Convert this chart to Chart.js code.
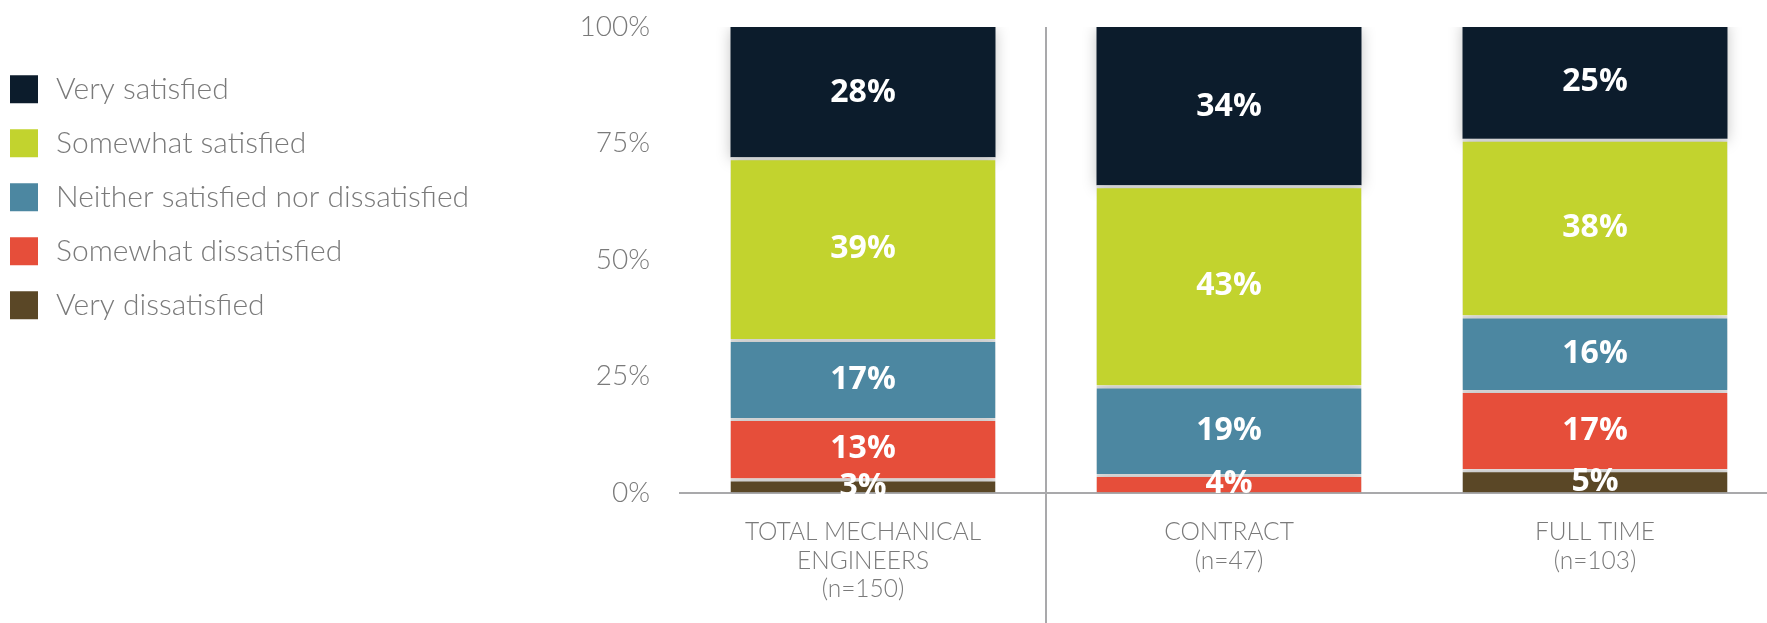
<!DOCTYPE html>
<html><head><meta charset="utf-8">
<script src="https://cdn.jsdelivr.net/npm/chart.js@4.4.1/dist/chart.umd.min.js"></script>
<style>
html,body{margin:0;padding:0;background:#fff;overflow:hidden;}
#wrap{position:relative;width:1778px;height:623px;}
</style></head><body>
<div id="wrap"><canvas id="c"></canvas></div>
<script>
const categories = [['TOTAL MECHANICAL','ENGINEERS','(n=150)'], ['CONTRACT','(n=47)'], ['FULL TIME','(n=103)']];
const seriesNames = ['Very dissatisfied','Somewhat dissatisfied','Neither satisfied nor dissatisfied','Somewhat satisfied','Very satisfied'];
const veryDissatisfied = [3, 0, 5];
const somewhatDissatisfied = [13, 4, 17];
const neitherSatisfied = [17, 19, 16];
const somewhatSatisfied = [39, 43, 38];
const verySatisfied = [28, 34, 25];
const yTicks = [0, 25, 50, 75, 100];
const seriesColors = ['#5a4726', '#e64e3a', '#4c87a1', '#c2d32e', '#0c1c2c'];

const seriesValues = [veryDissatisfied, somewhatDissatisfied, neitherSatisfied, somewhatSatisfied, verySatisfied];
const GRAY = '#7a7a7a';
const PAD_LEFT = -13;

const datasets = seriesValues.map((vals, i) => ({
  label: seriesNames[i],
  data: vals,
  backgroundColor: seriesColors[i],
  borderColor: '#e2e2e2',
  borderWidth: i === seriesValues.length - 1 ? 0 : {top: 3, left: 0, right: 0, bottom: 0},
  borderSkipped: 'start',
  categoryPercentage: 1.0,
  barPercentage: 0.724
}));

const shadowPlugin = {
  id: 'shadow',
  beforeDatasetsDraw(chart) {
    const ctx = chart.ctx;
    ctx.save();
    ctx.shadowColor = 'rgba(0,0,0,0.25)';
    ctx.shadowBlur = 14;
    ctx.shadowOffsetX = 0;
    ctx.shadowOffsetY = 2;
  },
  afterDatasetsDraw(chart) {
    chart.ctx.restore();
  }
};

const labelPlugin = {
  id: 'segLabels',
  afterDatasetsDraw(chart) {
    const ctx = chart.ctx;
    ctx.save();
    ctx.font = 'bold 32px "Open Sans"';
    ctx.fillStyle = '#ffffff';
    ctx.textAlign = 'center';
    ctx.textBaseline = 'middle';
    chart.data.datasets.forEach((ds, di) => {
      const meta = chart.getDatasetMeta(di);
      meta.data.forEach((el, i) => {
        const v = ds.data[i];
        if (!v) return;
        const y = (el.y + el.base) / 2;
        ctx.fillText(v + '%', el.x, y + 1);
      });
    });
    ctx.restore();
  }
};

const separatorPlugin = {
  id: 'separator',
  beforeDatasetsDraw(chart) {
    const xs = chart.scales.x;
    const x = (xs.getPixelForTick(0) + xs.getPixelForTick(1)) / 2;
    const ctx = chart.ctx;
    ctx.save();
    ctx.strokeStyle = '#a9a9ab';
    ctx.lineWidth = 2;
    ctx.beginPath();
    ctx.moveTo(x, chart.chartArea.top);
    ctx.lineTo(x, chart.height);
    ctx.stroke();
    ctx.restore();
  }
};

new Chart(document.getElementById('c'), {
  type: 'bar',
  data: { labels: categories, datasets },
  options: {
    responsive: true,
    maintainAspectRatio: false,
    animation: false,
    layout: { padding: { top: 27, left: PAD_LEFT, right: 0, bottom: 0 } },
    plugins: {
      tooltip: { enabled: false },
      legend: {
        position: 'left',
        align: 'start',
        reverse: true,
        maxWidth: 600,
        title: { display: true, text: '', padding: { top: 24, bottom: 0 }, font: { size: 1 } },
        labels: {
          boxWidth: 34,
          boxHeight: 34,
          padding: 20,
          color: GRAY,
          font: { family: 'Lato', size: 30, weight: '300' },
          generateLabels(chart) {
            const items = Chart.defaults.plugins.legend.labels.generateLabels(chart);
            items.forEach(it => { it.strokeStyle = '#ffffff'; it.lineWidth = 6; });
            return items;
          }
        }
      }
    },
    scales: {
      x: {
        stacked: true,
        grid: { display: false },
        border: { display: true, color: '#a9a9ab', width: 2 },
        ticks: {
          color: GRAY,
          padding: 18,
          maxRotation: 0,
          autoSkip: false,
          font: { family: 'Lato', size: 24.5, weight: '300', lineHeight: 1.15 }
        },
        afterFit(s) { s.height = 130.5; }
      },
      y: {
        stacked: true,
        min: 0,
        max: 100,
        grid: { display: false },
        border: { display: false },
        afterBuildTicks(s) { s.ticks = yTicks.map(v => ({ value: v })); },
        ticks: {
          color: GRAY,
          padding: 22,
          font: { family: 'Lato', size: 28, weight: '300' },
          callback: v => v + '%'
        },
        afterFit(s) {
          const lg = s.chart.legend;
          const lw = lg ? lg.width : 0;
          s.width = 680 - PAD_LEFT - lw;
          s.paddingTop = 0;
          s.paddingBottom = 0;
        }
      }
    }
  },
  plugins: [separatorPlugin, shadowPlugin, labelPlugin]
});
</script>
</body></html>
